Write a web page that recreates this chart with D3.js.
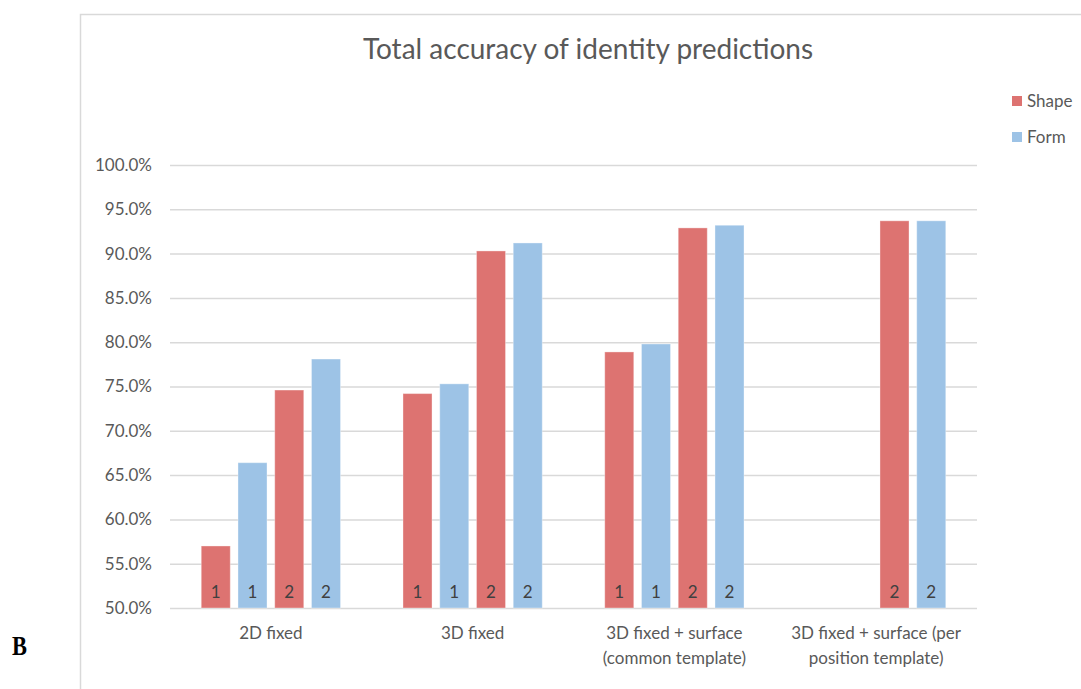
<!DOCTYPE html>
<html lang="en">
<head>
<meta charset="UTF-8">
<title>Total accuracy of identity predictions</title>
<script src="https://d3js.org/d3.v7.min.js"></script>
<style>
  body { margin: 0; background: #fff; }
  svg { display: block; }
</style>
</head>
<body>
<div id="chart"></div>
<script>
// data
const categories = ["2D fixed", "3D fixed", "3D fixed + surface (common template)", "3D fixed + surface (per position template)"];
const slots = ["Shape 1", "Form 1", "Shape 2", "Form 2"];
const shape1 = [0.570, 0.742, 0.789, null];
const form1 = [0.664, 0.753, 0.798, null];
const shape2 = [0.746, 0.903, 0.929, 0.937];
const form2 = [0.781, 0.912, 0.932, 0.937];
const seriesNames = ["Shape", "Form"];
const tickValues = [0.5, 0.55, 0.6, 0.65, 0.7, 0.75, 0.8, 0.85, 0.9, 0.95, 1.0];

const W = 1081, H = 689;
const font = "Lato, 'Open Sans', sans-serif";
const colors = { Shape: "#dd7371", Form: "#9dc3e6" };
const textGray = "#595959";
const gridGray = "#d9d9d9";

const plot = { left: 170, right: 977, top: 165, bottom: 608 };

const svg = d3.select("#chart").append("svg")
  .attr("width", W).attr("height", H);

// chart frame (top and left edge visible)
svg.append("path")
  .attr("d", `M80.5,${H} V14.5 H${W}`)
  .attr("fill", "none")
  .attr("stroke", gridGray)
  .attr("stroke-width", 1.5);

const x0 = d3.scaleBand().domain(categories).range([plot.left, plot.right]);
const x1 = d3.scaleBand().domain(slots).range([0, x0.bandwidth()])
  .paddingInner(0.21).paddingOuter(0.85);
const y = d3.scaleLinear().domain([0.5, 1.0]).range([plot.bottom, plot.top]);

// gridlines + tick labels
const yAxis = svg.append("g")
  .attr("transform", `translate(${plot.left},0)`)
  .call(d3.axisLeft(y).tickValues(tickValues).tickFormat(d3.format(".1%"))
    .tickSize(-(plot.right - plot.left)).tickPadding(18));
yAxis.select(".domain").remove();
yAxis.selectAll(".tick line").attr("stroke", gridGray).attr("stroke-width", 1.5);
yAxis.selectAll(".tick text")
  .attr("fill", textGray).attr("font-family", font).attr("font-size", 17);

// flatten bar data
const bars = [];
categories.forEach((c, i) => {
  [[shape1, "Shape", "1"], [form1, "Form", "1"], [shape2, "Shape", "2"], [form2, "Form", "2"]]
    .forEach(([arr, s, run], j) => {
      if (arr[i] != null) bars.push({ cat: c, slot: slots[j], series: s, run: run, value: arr[i] });
    });
});

const g = svg.append("g");
g.selectAll("rect")
  .data(bars)
  .join("rect")
  .attr("x", d => x0(d.cat) + x1(d.slot))
  .attr("y", d => y(d.value))
  .attr("width", x1.bandwidth())
  .attr("height", d => y(0.5) - y(d.value))
  .attr("fill", d => colors[d.series])
  .attr("stroke", "#fff")
  .attr("stroke-opacity", 0.35)
  .attr("stroke-width", 1);

g.selectAll("text")
  .data(bars)
  .join("text")
  .attr("x", d => x0(d.cat) + x1(d.slot) + x1.bandwidth() / 2)
  .attr("y", y(0.5) - 10)
  .attr("text-anchor", "middle")
  .attr("fill", "#404040")
  .attr("font-family", font)
  .attr("font-size", 17)
  .text(d => d.run);

// category labels, wrapped
function wrapLines(text, maxW, size) {
  const ctx = document.createElement("canvas").getContext("2d");
  ctx.font = `${size}px Lato`;
  const words = text.split(" ");
  const lines = [];
  let cur = "";
  words.forEach(w => {
    const t = cur ? cur + " " + w : w;
    if (ctx.measureText(t).width > maxW && cur) { lines.push(cur); cur = w; }
    else cur = t;
  });
  lines.push(cur);
  return lines;
}

const catLabels = svg.append("g").selectAll("text")
  .data(categories)
  .join("text")
  .attr("x", d => x0(d) + x0.bandwidth() / 2)
  .attr("y", plot.bottom + 31)
  .attr("text-anchor", "middle")
  .attr("fill", textGray)
  .attr("font-family", font)
  .attr("font-size", 17);
catLabels.each(function (d) {
  const lines = wrapLines(d, 185, 17);
  d3.select(this).selectAll("tspan")
    .data(lines)
    .join("tspan")
    .attr("x", x0(d) + x0.bandwidth() / 2)
    .attr("dy", (l, i) => i === 0 ? 0 : 25)
    .text(l => l);
});

// title
svg.append("text")
  .attr("x", 588)
  .attr("y", 59)
  .attr("text-anchor", "middle")
  .attr("fill", textGray)
  .attr("font-family", font)
  .attr("font-size", 28)
  .text("Total accuracy of identity predictions");

// legend
const legend = svg.append("g").selectAll("g")
  .data(seriesNames)
  .join("g")
  .attr("transform", (d, i) => `translate(1012,${96 + i * 36})`);
legend.append("rect")
  .attr("width", 10).attr("height", 10)
  .attr("fill", d => colors[d]);
legend.append("text")
  .attr("x", 15).attr("y", 11)
  .attr("fill", textGray)
  .attr("font-family", font)
  .attr("font-size", 17)
  .text(d => d);

// panel letter
svg.append("text")
  .attr("transform", "translate(12,655) scale(0.8,1)")
  .attr("fill", "#000")
  .attr("font-family", "'Liberation Serif', serif")
  .attr("font-weight", "bold")
  .attr("font-size", 28)
  .text("B");
</script>
</body>
</html>
